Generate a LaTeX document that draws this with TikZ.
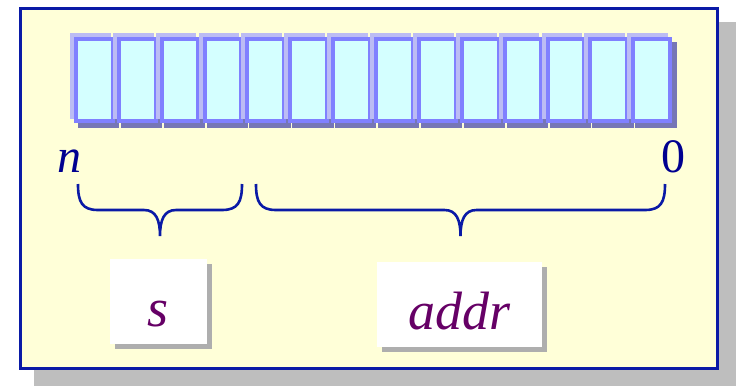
\documentclass[tikz,border=0pt]{standalone}
\usepackage{fontspec}
\setmainfont{Liberation Serif}
\usetikzlibrary{shadows}
\definecolor{paper}{HTML}{FFFFD8}
\definecolor{framebl}{HTML}{0A1AA6}
\definecolor{frameshd}{HTML}{BEBEBE}
\definecolor{boxshd}{HTML}{AEAEAE}
\definecolor{cellfill}{HTML}{D4FFFF}
\definecolor{cellline}{HTML}{8080FF}
\definecolor{cellhi}{HTML}{BCBCF4}
\definecolor{cellshd}{HTML}{7676B6}
\definecolor{bitnum}{HTML}{000090}
\definecolor{fieldtxt}{HTML}{660066}
% brace under a field: left end, right end, tip
\newcommand{\fieldbrace}[3]{%
  \draw[curly] (#1,184) .. controls (#1,202) and ({#1+4},210) .. ({#1+20},210)
    -- ({#3-16},210) .. controls ({#3-4},210) and (#3,220) .. (#3,236)
    .. controls (#3,220) and ({#3+4},210) .. ({#3+16},210)
    -- ({#2-20},210) .. controls ({#2-4},210) and (#2,202) .. (#2,184);}

\begin{document}
\begin{tikzpicture}[x=1pt, y=-1pt,
  cell/.style={draw=cellline, fill=cellfill, line width=4pt,
    minimum width=36.7pt, minimum height=82pt, inner sep=0pt},
  bitlbl/.style={font=\fontsize{48}{48}\selectfont, text=bitnum, inner sep=0pt},
  fieldbox/.style={fill=white, inner sep=0pt, text height=67pt, text depth=18pt,
    font=\fontsize{54}{54}\selectfont\itshape, text=fieldtxt,
    drop shadow={shadow xshift=5pt, shadow yshift=-5pt, fill=boxshd, opacity=1}},
  curly/.style={draw=framebl, line width=2.6pt}]
\useasboundingbox (0,0) rectangle (736,389);
% ----- frame -----
\fill[frameshd] (34,22) rectangle (736,386);
\draw[framebl, line width=3pt, fill=paper] (20,8) rectangle (717,368);
% ----- register cells: shadows first, then highlight + cell -----
\foreach \i in {0,...,13}{
  \pgfmathsetmacro{\L}{74+42.87*\i}
  \fill[cellshd] (\L+4,42) rectangle (\L+45.2,128);
}
\foreach \i in {0,...,13}{
  \pgfmathsetmacro{\L}{74+42.87*\i}
  \fill[cellhi] (\L-4,33) rectangle (\L+36.7,119);
  \node[cell] (c\i) at (\L+20.35,80) {};
}
\node[bitlbl, anchor=base] (msb) at (69,172) {\itshape n};
\node[bitlbl, anchor=base] (lsb) at (673,172) {0};
% ----- fields -----
\fieldbrace{78}{242}{160}
\fieldbrace{256}{665}{460.5}
\node[fieldbox, minimum width=97pt] (sfield) at (158.5,301.5) {s};
\node[fieldbox, minimum width=165pt] (afield) at (459.5,304.5) {addr};
\end{tikzpicture}
\end{document}
